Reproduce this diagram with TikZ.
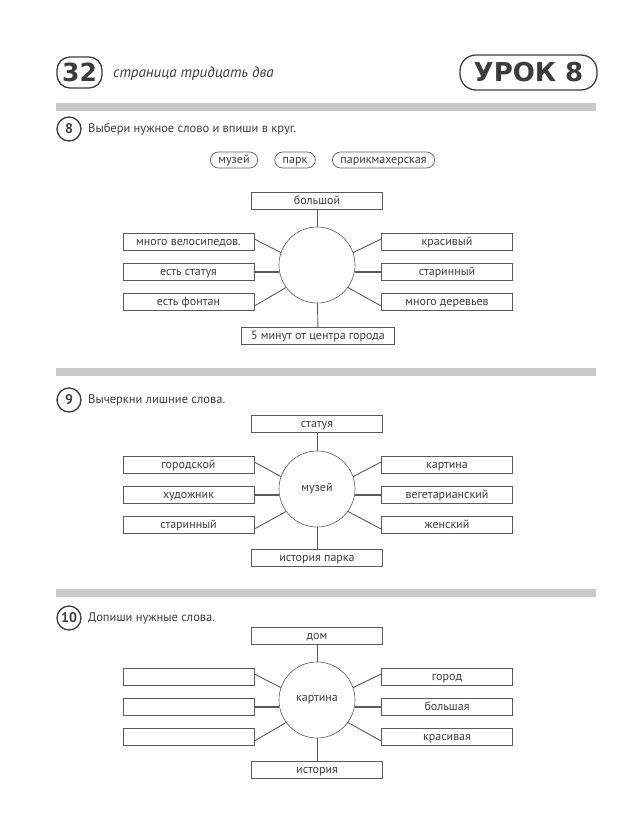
\documentclass[tikz,border=0pt]{standalone}
\usepackage{fontspec}
\setmainfont{PT Sans}
\newfontfamily\headfont{DejaVu Sans}
\definecolor{bargray}{HTML}{C9C9C9}
\definecolor{inkgray}{HTML}{3C3C3C}
\definecolor{linegray}{HTML}{5A5A5A}
\begin{document}
\begin{tikzpicture}[x=1pt,y=-1pt,
    wbox/.style={draw=linegray,line width=0.7pt,minimum width=131pt,minimum height=16.5pt,
      inner sep=0pt,text height=8pt,text depth=2pt,text=inkgray,font=\fontsize{12}{14}\selectfont},
    hub/.style={circle,draw=linegray,line width=0.6pt,minimum size=76pt,inner sep=0pt,
      text=inkgray,font=\fontsize{12}{14}\selectfont},
    spoke/.style={draw=linegray,line width=0.9pt},
    midspoke/.style={draw=linegray,line width=1.5pt},
    wordpill/.style={draw=linegray,line width=0.7pt,rounded corners=8pt,minimum height=16pt,
      inner xsep=8pt,inner ysep=0pt,text height=8pt,text depth=2pt,text=inkgray,
      font=\fontsize{12}{14}\selectfont},
    numring/.style={circle,draw=inkgray,line width=1.3pt,minimum size=24pt,inner sep=0pt,
      text=inkgray,font=\fontsize{14}{16}\selectfont\bfseries},
    task/.style={anchor=west,inner sep=0pt,text=inkgray,font=\fontsize{12.5}{14}\selectfont},
    bar/.style={fill=bargray,draw=none}]
  \useasboundingbox (0,0) rectangle (641,833);

  % header
  \node[draw=inkgray,line width=1.3pt,rounded corners=13pt,minimum width=45pt,minimum height=31pt,
    inner sep=0pt,text=inkgray,font=\headfont\fontsize{25}{25}\selectfont\bfseries] (page) at (79.5,72.5) {32};
  \node[anchor=west,inner sep=0pt,text=inkgray,font=\fontsize{15}{17}\selectfont\itshape] (pagetxt)
    at (113,74) {страница тридцать два};
  \node[draw=inkgray,line width=1.3pt,rounded corners=16pt,minimum width=137pt,minimum height=35pt,
    inner sep=0pt,text=inkgray,font=\headfont\fontsize{26}{26}\selectfont\bfseries] (lesson) at (528.5,72.5) {УРОК 8};

  % task 8
  \fill[bar] (56,103) rectangle (596,111);
  \node[numring] (n8) at (69,129) {8};
  \node[task] (t8) at (88,129) {Выбери нужное слово и впиши в круг.};
  \node[wordpill] (w1) at (234,160) {музей};
  \node[wordpill] (w2) at (295,160) {парк};
  \node[wordpill] (w3) at (383.5,160) {парикмахерская};

  \node[hub] (a) at (317,265) {};
  \node[wbox] (at) at (317,201) {большой};
  \node[wbox,minimum width=153pt] (ab) at (318,336) {5 минут от центра города};
  \node[wbox] (al1) at (188.5,242) {много велосипедов.};
  \node[wbox] (al2) at (188.5,272) {есть статуя};
  \node[wbox] (al3) at (188.5,302) {есть фонтан};
  \node[wbox] (ar1) at (447,242) {красивый};
  \node[wbox] (ar2) at (447,272) {старинный};
  \node[wbox] (ar3) at (447,302) {много деревьев};
  \draw[spoke] (at) -- (a);
  \draw[spoke] (a) -- (ab);
  \draw[spoke] ([yshift=3pt]al1.east) -- (a.161);
  \draw[midspoke] (al2.east) -- (al2.east -| a.west);
  \draw[spoke] ([yshift=-4pt]al3.east) -- (a.216);
  \draw[spoke] ([yshift=3pt]ar1.west) -- (a.19);
  \draw[midspoke] (ar2.west) -- (ar2.west -| a.east);
  \draw[spoke] ([yshift=-4pt]ar3.west) -- (a.-36);

  % task 9
  \fill[bar] (56,368) rectangle (596,376);
  \node[numring] (n9) at (69,400) {9};
  \node[task] (t9) at (88,400) {Вычеркни лишние слова.};

  \node[hub] (b) at (317,489) {музей};
  \node[wbox] (bt) at (317,424) {статуя};
  \node[wbox] (bb) at (317,558) {история парка};
  \node[wbox] (bl1) at (188.5,465) {городской};
  \node[wbox] (bl2) at (188.5,495) {художник};
  \node[wbox] (bl3) at (188.5,525) {старинный};
  \node[wbox] (br1) at (447,465) {картина};
  \node[wbox] (br2) at (447,495) {вегетарианский};
  \node[wbox] (br3) at (447,525) {женский};
  \draw[spoke] (bt) -- (b);
  \draw[spoke] (b) -- (bb);
  \draw[spoke] ([yshift=3pt]bl1.east) -- (b.161);
  \draw[midspoke] (bl2.east) -- (bl2.east -| b.west);
  \draw[spoke] ([yshift=-4pt]bl3.east) -- (b.216);
  \draw[spoke] ([yshift=3pt]br1.west) -- (b.19);
  \draw[midspoke] (br2.west) -- (br2.west -| b.east);
  \draw[spoke] ([yshift=-4pt]br3.west) -- (b.-36);

  % task 10
  \fill[bar] (56,589) rectangle (596,597);
  \node[numring] (n10) at (69,618) {10};
  \node[task] (t10) at (88,618) {Допиши нужные слова.};

  \node[hub] (c) at (317,700) {картина};
  \node[wbox] (ct) at (317,636) {дом};
  \node[wbox] (cb) at (317,770) {история};
  \node[wbox] (cl1) at (188.5,677) {};
  \node[wbox] (cl2) at (188.5,707) {};
  \node[wbox] (cl3) at (188.5,737) {};
  \node[wbox] (cr1) at (447,677) {город};
  \node[wbox] (cr2) at (447,707) {большая};
  \node[wbox] (cr3) at (447,737) {красивая};
  \draw[spoke] (ct) -- (c);
  \draw[spoke] (c) -- (cb);
  \draw[spoke] ([yshift=3pt]cl1.east) -- (c.161);
  \draw[midspoke,line width=2.4pt] (cl2.east) -- (cl2.east -| c.west);
  \draw[spoke] ([yshift=-4pt]cl3.east) -- (c.216);
  \draw[spoke] ([yshift=3pt]cr1.west) -- (c.19);
  \draw[midspoke,line width=2.4pt] (cr2.west) -- (cr2.west -| c.east);
  \draw[spoke] ([yshift=-4pt]cr3.west) -- (c.-36);
\end{tikzpicture}
\end{document}
